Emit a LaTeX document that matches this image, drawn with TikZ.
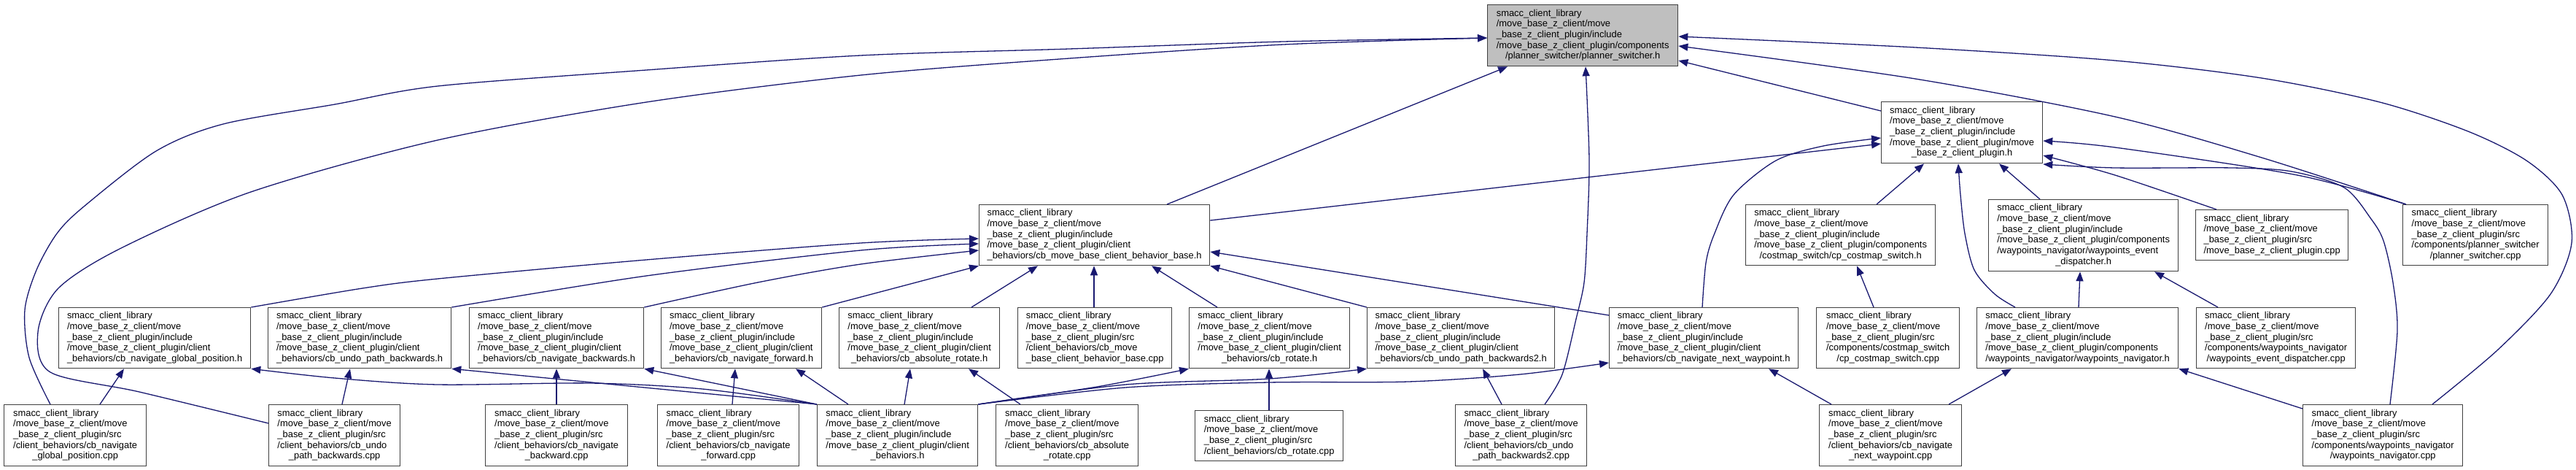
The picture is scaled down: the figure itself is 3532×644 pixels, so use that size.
\documentclass[tikz,border=0pt]{standalone}
\usepackage{fontspec}
\setmainfont{Liberation Sans}
\usetikzlibrary{arrows.meta}
\definecolor{edgecol}{RGB}{25,25,112}
\definecolor{boxcol}{RGB}{64,64,64}
\definecolor{topfill}{RGB}{191,191,191}
\newcommand\dlbl[2]{\begin{tabular}{@{}l@{}}#1\\\multicolumn{1}{@{}c@{}}{#2}\end{tabular}}
\newcommand\Lone{smacc\_client\_library\\/move\_base\_z\_client/move}
\newcommand\Linc{\Lone\\\_base\_z\_client\_plugin/include}
\newcommand\Lsrc{\Lone\\\_base\_z\_client\_plugin/src}
\newcommand\Lcl{\Linc\\/move\_base\_z\_client\_plugin/client}
\tikzset{
  dnode/.style={draw=boxcol, line width=1.3pt, inner sep=0pt, anchor=north west, fill=white,
    font=\fontsize{12.9}{14.7}\selectfont},
  dlink/.style={draw=edgecol, line width=1.3pt, -{Triangle[length=13pt,width=10pt]}},
  sm/.style={smooth, tension=0.5}
}
\begin{document}
\begin{tikzpicture}[x=1pt,y=-1pt]
\useasboundingbox (0,0) rectangle (3532,644);
% row 1
\node[dnode, fill=topfill, minimum width=261pt, minimum height=84pt] (PSH) at (2039,6)
  {\dlbl{\Linc\\/move\_base\_z\_client\_plugin/components}{/planner\_switcher/planner\_switcher.h}};
% row 2
\node[dnode, minimum width=221pt, minimum height=84pt] (MBH) at (2579,139)
  {\dlbl{\Linc\\/move\_base\_z\_client\_plugin/move}{\_base\_z\_client\_plugin.h}};
% row 3
\node[dnode, minimum width=316pt, minimum height=83pt] (CBBH) at (1342,280)
  {\dlbl{\Lcl}{\_behaviors/cb\_move\_base\_client\_behavior\_base.h}};
\node[dnode, minimum width=260pt, minimum height=83pt] (CPH) at (2393,280)
  {\dlbl{\Linc\\/move\_base\_z\_client\_plugin/components}{/costmap\_switch/cp\_costmap\_switch.h}};
\node[dnode, minimum width=260pt, minimum height=98pt] (WEDH) at (2726,273)
  {\dlbl{\Linc\\/move\_base\_z\_client\_plugin/components\\/waypoints\_navigator/waypoints\_event}{\_dispatcher.h}};
\node[dnode, minimum width=209pt, minimum height=69pt] (MBCPP) at (3010,287)
  {\dlbl{\Lsrc}{/move\_base\_z\_client\_plugin.cpp}};
\node[dnode, minimum width=199pt, minimum height=83pt] (PSCPP) at (3294,280)
  {\dlbl{\Lsrc\\/components/planner\_switcher}{/planner\_switcher.cpp}};
% row 4
\node[dnode, minimum width=263pt, minimum height=83pt] (NGPH) at (80,421)
  {\dlbl{\Lcl}{\_behaviors/cb\_navigate\_global\_position.h}};
\node[dnode, minimum width=251pt, minimum height=83pt] (UPBH) at (367,421)
  {\dlbl{\Lcl}{\_behaviors/cb\_undo\_path\_backwards.h}};
\node[dnode, minimum width=239pt, minimum height=83pt] (NBH) at (643,421)
  {\dlbl{\Lcl}{\_behaviors/cb\_navigate\_backwards.h}};
\node[dnode, minimum width=220pt, minimum height=83pt] (NFH) at (906,421)
  {\dlbl{\Lcl}{\_behaviors/cb\_navigate\_forward.h}};
\node[dnode, minimum width=220pt, minimum height=83pt] (ARH) at (1150,421)
  {\dlbl{\Lcl}{\_behaviors/cb\_absolute\_rotate.h}};
\node[dnode, minimum width=211pt, minimum height=83pt] (CBBCPP) at (1395,421)
  {\dlbl{\Lsrc\\/client\_behaviors/cb\_move}{\_base\_client\_behavior\_base.cpp}};
\node[dnode, minimum width=220pt, minimum height=83pt] (ROTH) at (1630,421)
  {\dlbl{\Lcl}{\_behaviors/cb\_rotate.h}};
\node[dnode, minimum width=257pt, minimum height=83pt] (UPB2H) at (1874,421)
  {\dlbl{\Lcl}{\_behaviors/cb\_undo\_path\_backwards2.h}};
\node[dnode, minimum width=259pt, minimum height=83pt] (NNWH) at (2206,421)
  {\dlbl{\Lcl}{\_behaviors/cb\_navigate\_next\_waypoint.h}};
\node[dnode, minimum width=196pt, minimum height=83pt] (CPCPP) at (2490,421)
  {\dlbl{\Lsrc\\/components/costmap\_switch}{/cp\_costmap\_switch.cpp}};
\node[dnode, minimum width=276pt, minimum height=83pt] (WNH) at (2710,421)
  {\dlbl{\Linc\\/move\_base\_z\_client\_plugin/components}{/waypoints\_navigator/waypoints\_navigator.h}};
\node[dnode, minimum width=218pt, minimum height=83pt] (WEDCPP) at (3011,421)
  {\dlbl{\Lsrc\\/components/waypoints\_navigator}{/waypoints\_event\_dispatcher.cpp}};
% row 5
\node[dnode, minimum width=195pt, minimum height=84pt] (NGPCPP) at (5,554)
  {\dlbl{\Lsrc\\/client\_behaviors/cb\_navigate}{\_global\_position.cpp}};
\node[dnode, minimum width=180pt, minimum height=84pt] (UPBCPP) at (368,554)
  {\dlbl{\Lsrc\\/client\_behaviors/cb\_undo}{\_path\_backwards.cpp}};
\node[dnode, minimum width=195pt, minimum height=84pt] (NBCPP) at (665,554)
  {\dlbl{\Lsrc\\/client\_behaviors/cb\_navigate}{\_backward.cpp}};
\node[dnode, minimum width=194pt, minimum height=84pt] (NFCPP) at (901,554)
  {\dlbl{\Lsrc\\/client\_behaviors/cb\_navigate}{\_forward.cpp}};
\node[dnode, minimum width=220pt, minimum height=84pt] (CBH) at (1120,554)
  {\dlbl{\Lcl}{\_behaviors.h}};
\node[dnode, minimum width=195pt, minimum height=84pt] (ARCPP) at (1365,554)
  {\dlbl{\Lsrc\\/client\_behaviors/cb\_absolute}{\_rotate.cpp}};
\node[dnode, minimum width=203pt, minimum height=69pt] (ROTCPP) at (1638,562)
  {\dlbl{\Lsrc}{/client\_behaviors/cb\_rotate.cpp}};
\node[dnode, minimum width=180pt, minimum height=84pt] (UPB2CPP) at (1995,554)
  {\dlbl{\Lsrc\\/client\_behaviors/cb\_undo}{\_path\_backwards2.cpp}};
\node[dnode, minimum width=195pt, minimum height=84pt] (NNWCPP) at (2494,554)
  {\dlbl{\Lsrc\\/client\_behaviors/cb\_navigate}{\_next\_waypoint.cpp}};
\node[dnode, minimum width=219pt, minimum height=84pt] (WNCPP) at (3157,554)
  {\dlbl{\Lsrc\\/components/waypoints\_navigator}{/waypoints\_navigator.cpp}};

% edges into PSH
\draw[dlink] plot[sm] coordinates {(NGPCPP.north -| 69,0) (40,490) (34,425) (50,370) (78,320) (115,283) (214,207) (306,170) (459,143) (600,118) (886,96) (1180,76) (1466,67) (1760,57) (PSH.west |- 0,52)};
\draw[dlink] plot[sm] coordinates {(UPBCPP.west |- 0,580) (191,537) (69,510) (52,455) (80,395) (166,340) (344,263) (600,192) (886,140) (1180,103) (1466,80) (1760,61) (PSH.west |- 0,52)};
\draw[dlink] (CBBH.north -| 1600,0) -- (PSH.south -| 2067,0);
\draw[dlink] plot[sm] coordinates {(UPB2CPP.north -| 2118,0) (2142,513) (2161,437) (2172,387) (2176,320) (2179,220) (PSH.south -| 2174,0)};
\draw[dlink] (MBH.west |- 0,152) -- (PSH.east |- 0,83);
\draw[dlink] plot[sm] coordinates {(PSCPP.north -| 3299,0) (3101,216) (2900,160) (2626,108) (PSH.east |- 0,63)};
\draw[dlink] plot[sm] coordinates {(WNCPP.north -| 3335,0) (3424,480) (3497,403) (3526,333) (3513,267) (3464,220) (3384,180) (3263,140) (3101,107) (2900,83) (2626,65) (PSH.east |- 0,50)};
% edges into MBH
\draw[dlink] (CBBH.east |- 0,302) -- (MBH.west |- 0,197);
\draw[dlink] plot[sm] coordinates {(NNWH.north -| 2334,0) (2339,360) (2350,322) (2377,267) (2435,220) (2500,200) (MBH.west |- 0,189)};
\draw[dlink] (CPH.north -| 2573,0) -- (MBH.south -| 2638,0);
\draw[dlink] plot[sm] coordinates {(WNH.north -| 2763,0) (2735,403) (2707,370) (2694,320) (2688,267) (MBH.south -| 2685,0)};
\draw[dlink] (WEDH.north -| 2797,0) -- (MBH.south -| 2741,0);
\draw[dlink] plot[sm] coordinates {(MBCPP.north -| 3039,0) (2900,240) (MBH.east |- 0,213)};
\draw[dlink] plot[sm] coordinates {(PSCPP.north -| 3299,0) (3150,240) (2900,202) (MBH.east |- 0,193)};
\draw[dlink] plot[sm] coordinates {(WNCPP.north -| 3277,0) (3287,453) (3281,387) (3268,330) (3251,300) (3214,257) (3142,235) (3061,230) (2900,230) (MBH.east |- 0,225)};
% edges into CBBH
\draw[dlink] plot[sm] coordinates {(NGPH.north east) (497,395) (600,382) (886,356) (1180,333) (CBBH.west |- 0,327)};
\draw[dlink] plot[sm] coordinates {(UPBH.north east) (886,378) (1180,343) (CBBH.west |- 0,334)};
\draw[dlink] plot[sm] coordinates {(NBH.north east) (1039,387) (1180,362) (CBBH.west |- 0,343)};
\draw[dlink] (NFH.north east) -- (CBBH.south west);
\draw[dlink] (ARH.north -| 1332,0) -- (CBBH.south -| 1423,0);
\draw[dlink] (CBBCPP.north -| 1500,0) -- (CBBH.south -| 1500,0);
\draw[dlink] (ROTH.north -| 1669,0) -- (CBBH.south -| 1579,0);
\draw[dlink] (UPB2H.north west) -- (CBBH.south east);
\draw[dlink] (NNWH.west |- 0,432) -- (CBBH.east |- 0,345);
% row 4 -> row 5
\draw[dlink] (NGPCPP.north -| 137,0) -- (NGPH.south -| 170,0);
\draw[dlink] plot[sm] coordinates {(CBH.north west) (963,533) (810,525) (600,527) (459,518) (NGPH.south east)};
\draw[dlink] (UPBCPP.north -| 469,0) -- (UPBH.south -| 480,0);
\draw[dlink] (CBH.north west) -- (UPBH.south east);
\draw[dlink] (NBCPP.north -| 763,0) -- (NBH.south -| 763,0);
\draw[dlink] (CBH.north west) -- (NBH.south east);
\draw[dlink] (NFCPP.north -| 1004,0) -- (NFH.south -| 1008,0);
\draw[dlink] (CBH.north -| 1163,0) -- (NFH.south -| 1091,0);
\draw[dlink] (CBH.north -| 1240,0) -- (ARH.south -| 1248,0);
\draw[dlink] (ARCPP.north -| 1399,0) -- (ARH.south -| 1328,0);
\draw[dlink] plot[sm] coordinates {(CBH.north east) (1504,530) (ROTH.south west)};
\draw[dlink] (ROTCPP.north -| 1740,0) -- (ROTH.south -| 1740,0);
\draw[dlink] plot[sm] coordinates {(CBH.north east) (1543,527) (1740,519) (UPB2H.south west)};
\draw[dlink] plot[sm] coordinates {(CBH.north east) (1543,531) (1740,524) (1931,523) (2084,513) (NNWH.west |- 0,497)};
\draw[dlink] (UPB2CPP.north -| 2059,0) -- (UPB2H.south -| 2033,0);
\draw[dlink] (NNWCPP.north -| 2511,0) -- (NNWH.south -| 2425,0);
\draw[dlink] (NNWCPP.north -| 2672,0) -- (WNH.south -| 2758,0);
\draw[dlink] (CPCPP.north -| 2569,0) -- (CPH.south -| 2546,0);
\draw[dlink] (WNH.north -| 2850,0) -- (WEDH.south -| 2852,0);
\draw[dlink] (WEDCPP.north -| 3041,0) -- (WEDH.south -| 2954,0);
\draw[dlink] (WNCPP.west |- 0,560) -- (WNH.south east);
\end{tikzpicture}
\end{document}
